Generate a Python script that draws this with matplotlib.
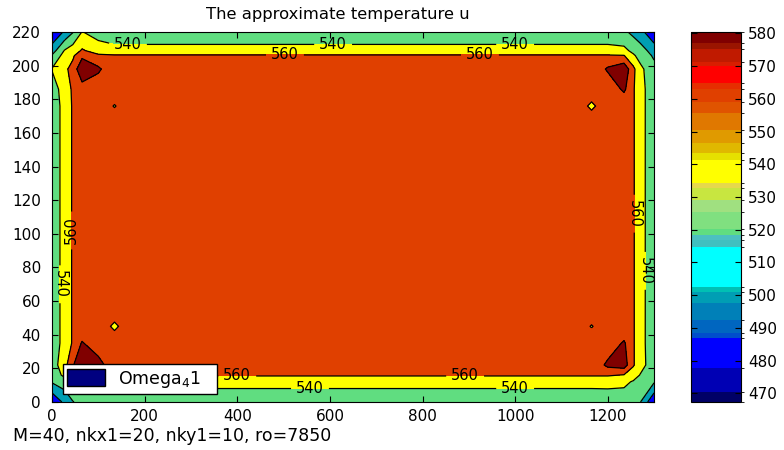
import numpy as np
import matplotlib
matplotlib.use("Agg")
import matplotlib.pyplot as plt  # noqa: E402
from matplotlib.colors import ListedColormap, BoundaryNorm  # noqa: E402
from matplotlib.patches import Patch  # noqa: E402
import matplotlib.cm as cm  # noqa: E402

# node positions of the (coarse) temperature grid
X_NODES = [0, 27, 45, 65, 100, 135, 170, 650, 1130, 1165, 1200, 1235, 1255, 1270, 1300]
Y_NODES = [0, 12, 16, 22, 35, 45, 55, 110, 166, 176, 186, 198, 206, 209, 220]

# temperature u at the nodes, rows from y=0 up to y=220
U = [
    [482, 505, 519, 527, 527, 526, 526, 526, 526, 526, 527, 528, 527, 521, 482],
    [522, 530, 541, 548, 547, 547, 547, 547, 547, 547, 547, 545, 538, 530, 522],
    [526, 545, 556, 562, 562, 562, 562, 562, 562, 562, 562, 559, 550, 539, 526],
    [530, 552, 578, 598, 590, 563, 563, 563, 563, 563, 585, 590, 562, 548, 528],
    [526, 548, 562, 582, 565, 563, 563, 563, 563, 563, 565, 583, 562, 548, 526],
    [526, 548, 562, 563, 563, 559, 563, 563, 563, 559.7, 563, 563, 562, 548, 526],
    [526, 548, 562, 563, 563, 563, 563, 563, 563, 563, 563, 563, 562, 548, 526],
    [526, 548, 562, 563, 563, 563, 563, 565, 563, 563, 563, 563, 562, 548, 526],
    [526, 548, 562, 563, 563, 563, 563, 563, 563, 563, 563, 563, 562, 548, 526],
    [526, 548, 562, 563, 563, 559.7, 563, 563, 563, 559, 563, 563, 562, 548, 526],
    [530, 549, 563, 570, 565, 563, 563, 563, 563, 563, 564, 584, 562, 548, 526],
    [541, 556, 566, 598, 584, 563, 563, 563, 563, 563, 583, 595, 565, 545, 526],
    [522, 548, 557, 575, 563, 562, 562, 562, 562, 562, 562, 561, 543, 533, 517],
    [510, 541, 550, 562, 552, 547, 547, 547, 547, 547, 547, 545, 535, 528, 512],
    [482, 503, 519, 541, 530, 526, 526, 526, 526, 526, 526, 524, 515, 508, 482],
]

LEVELS = [480, 500, 520, 540, 560, 580, 600]

# colormap as shown on the colorbar (band edges, bottom to top)
CB_EDGES = [467.4, 470.5, 477.7, 486.8, 488.4, 492.4, 497.5, 501.1, 502.6,
            514.8, 516.9, 518.4, 520.1, 525.5, 529.1, 532.6, 534.2, 541.3,
            543.3, 546.6, 550.5, 555.6, 559.1, 563.0, 564.7, 570.0, 571.3,
            575.1, 577.0, 580.5]
CB_COLORS = ["#000066", "#0000b4", "#0000ff", "#004dcc", "#0066c0", "#0080b8",
             "#009eb4", "#00c0b4", "#00ffff", "#40c0c0", "#4cc0c0", "#60dd80",
             "#80e080", "#a0e080", "#c8e640", "#e6d84c", "#ffff00", "#e6e000",
             "#e0b800", "#e09a00", "#e07800", "#e05400", "#e04000", "#e62e00",
             "#ff0000", "#d81e00", "#c01a00", "#9a1500", "#800000"]
CB_TICKS = list(range(470, 581, 10))

# where the contour labels sit
LABEL_SPOTS = [(164, 213), (607, 213), (1000, 213), (503, 207), (924, 207),
               (400, 15), (892, 15), (557, 8), (1000, 8),
               (42, 102), (18, 70), (1257, 112), (1281, 78)]


def main():
    plt.rcParams["font.family"] = "DejaVu Sans"
    plt.rcParams["font.size"] = 11

    fig = plt.figure(figsize=(7.84, 4.5), dpi=100)
    ax = fig.add_axes([0.0663, 0.1067, 0.768, 0.822])

    cmap = ListedColormap(CB_COLORS)
    norm = BoundaryNorm(CB_EDGES, cmap.N)
    fills = [cmap(int(norm(l))) for l in LEVELS[:-1]]

    X, Y = np.meshgrid(X_NODES, Y_NODES)
    Z = np.array(U, dtype=float)
    ax.contourf(X, Y, Z, levels=LEVELS, colors=fills)
    cl = ax.contour(X, Y, Z, levels=LEVELS[1:-1], colors="k", linewidths=0.9)
    ax.clabel(cl, fmt="%d", fontsize=10.5, inline=True, manual=LABEL_SPOTS)

    ax.set_xlim(0, 1300)
    ax.set_ylim(0, 220)
    ax.set_xticks(range(0, 1201, 200))
    ax.set_yticks(range(0, 221, 20))
    ax.tick_params(direction="in", top=True, right=True, length=4)
    ax.tick_params(axis="y", pad=8)
    ax.tick_params(axis="x", pad=5)

    ax.legend(handles=[Patch(facecolor="#000080", edgecolor="k",
                             label="Omega$_4$1   ")],
              loc="lower left", bbox_to_anchor=(0.018, 0.022), borderaxespad=0,
              fancybox=False, edgecolor="k", framealpha=1, fontsize=12.5,
              handlelength=2.2, handleheight=1.1, handletextpad=0.7,
              borderpad=0.25)

    fig.text(337.5 / 784, 1 - 14 / 450, "The approximate temperature u",
             ha="center", va="center", fontsize=11.8)
    fig.text(13 / 784, 1 - 436 / 450, "M=40, nkx1=20, nky1=10, ro=7850",
             ha="left", va="center", fontsize=12.5)

    cax = fig.add_axes([0.8814, 0.1067, 0.0638, 0.823])
    sm = cm.ScalarMappable(norm=norm, cmap=cmap)
    cb = fig.colorbar(sm, cax=cax, ticks=CB_TICKS, spacing="proportional")
    cb.ax.set_yticklabels([str(t) for t in CB_TICKS])
    cb.ax.tick_params(direction="in", left=True, right=True, length=4, pad=5)
    cb.outline.set_linewidth(0.8)

    fig.savefig("out.png", dpi=100)


if __name__ == "__main__":
    main()
